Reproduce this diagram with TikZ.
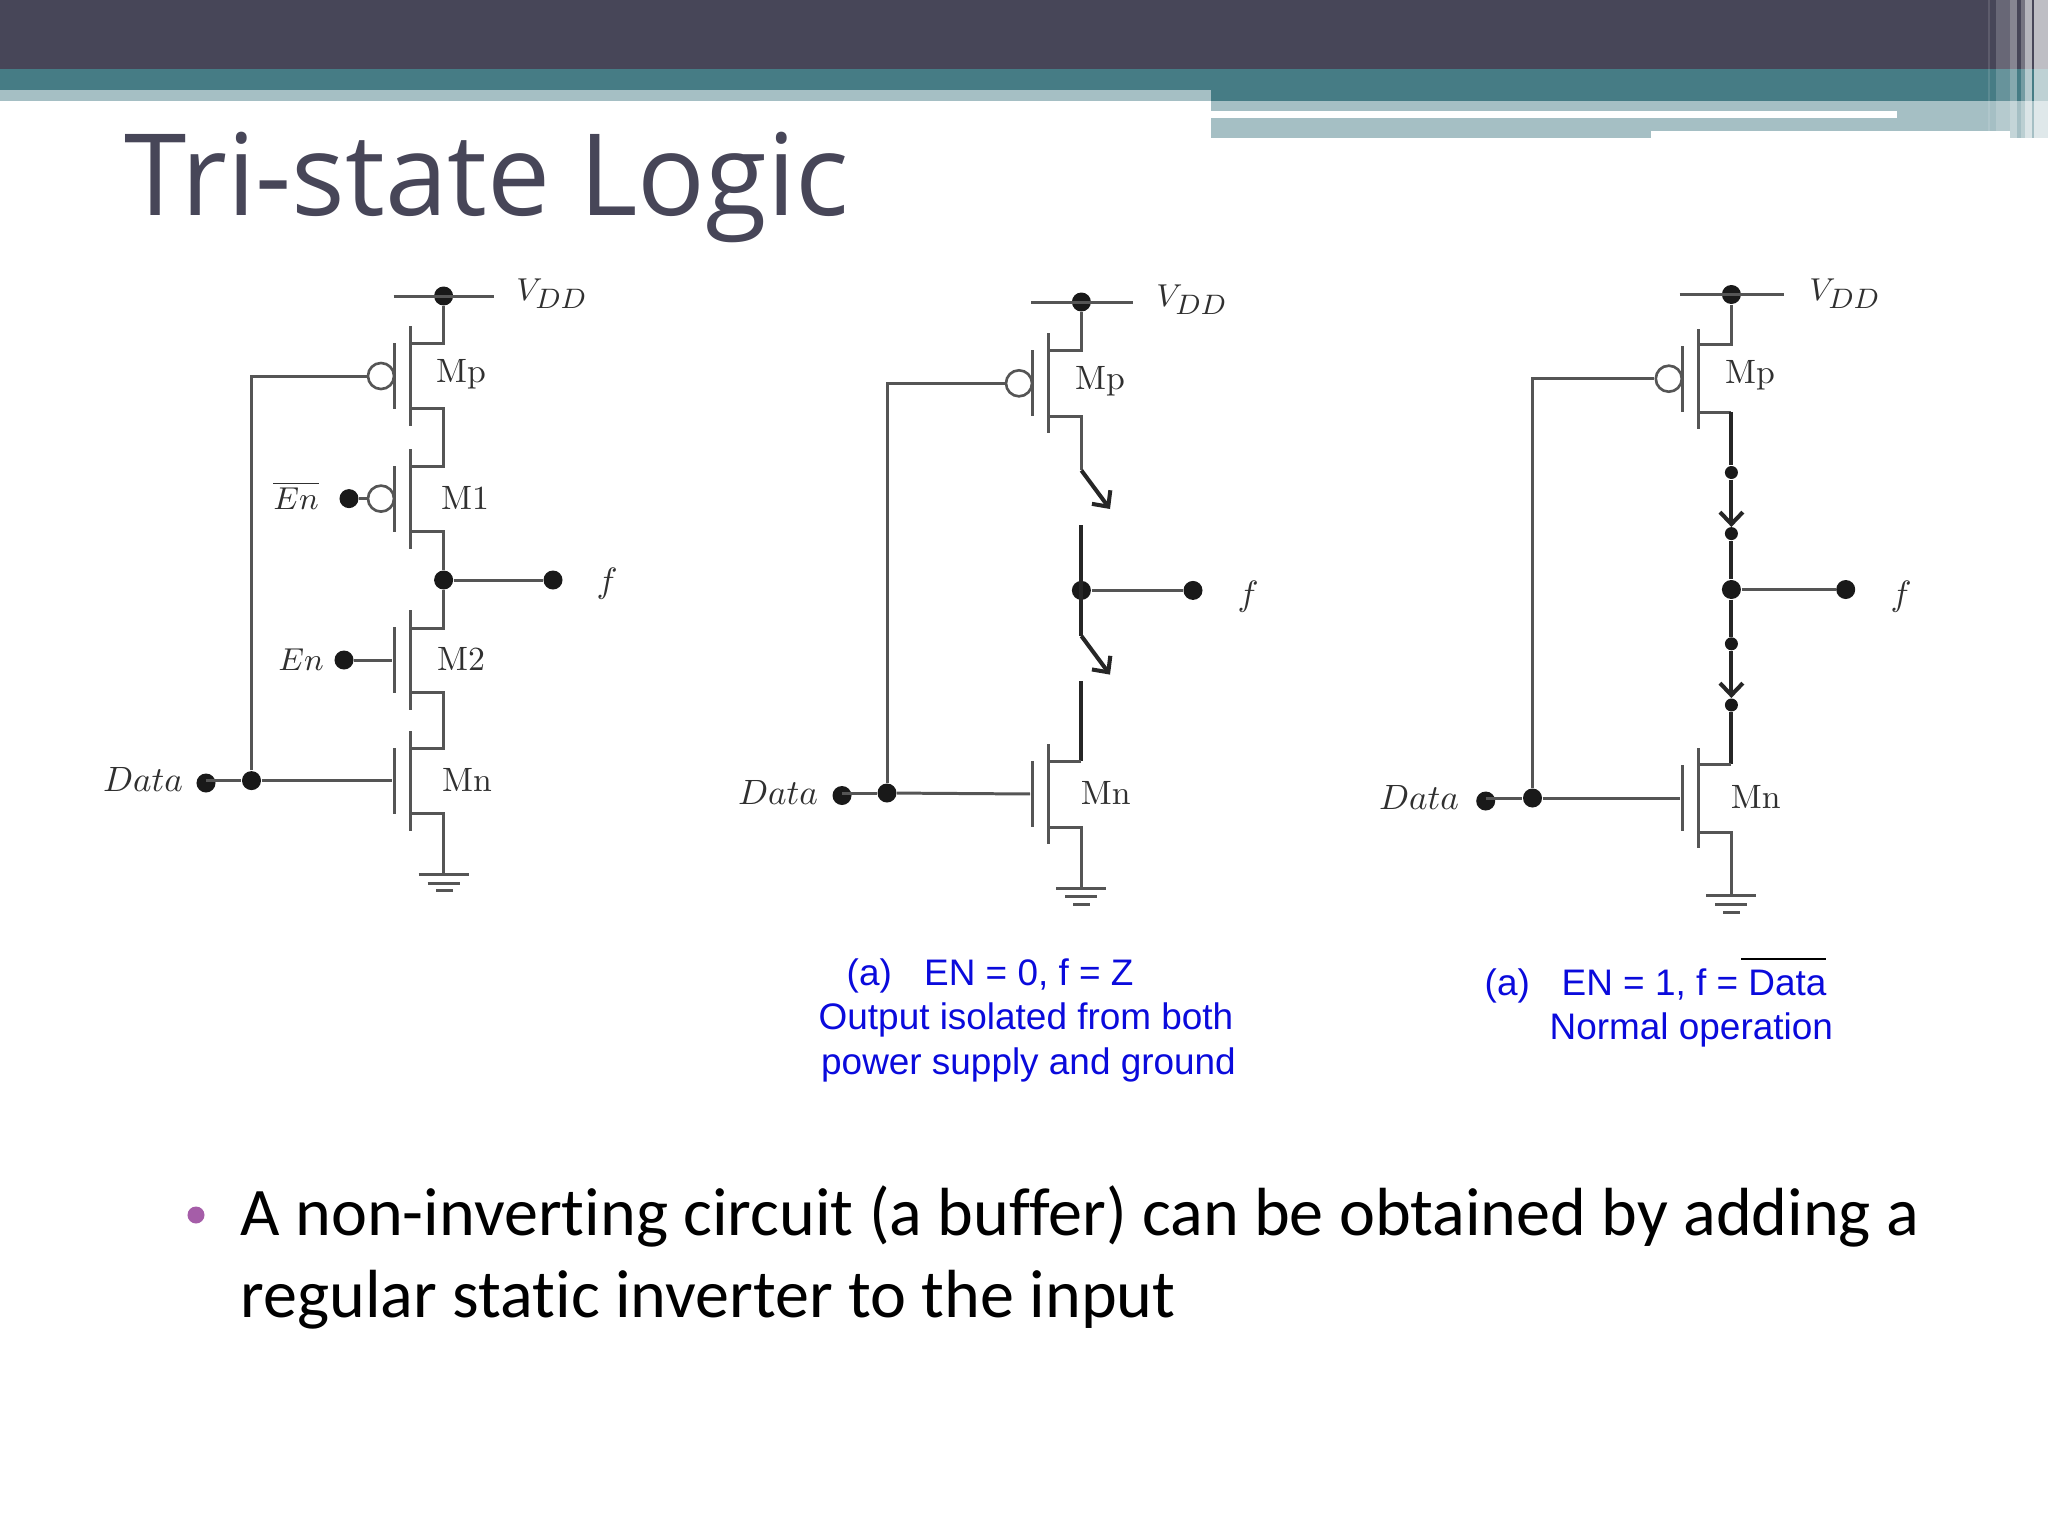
\documentclass[tikz,border=0pt]{standalone}
\usepackage{fontspec}
\usetikzlibrary{arrows.meta}
\newfontfamily\titlefont[FakeStretch=0.99]{Open Sans}
\newfontfamily\bodyfont[Ligatures=NoCommon]{Carlito}
\newfontfamily\notefont{Liberation Sans}
\definecolor{slate}{HTML}{474658}
\definecolor{teal}{HTML}{467C85}
\definecolor{pale}{HTML}{A5BFC4}
\definecolor{wirec}{HTML}{555555}
\definecolor{inkc}{HTML}{303030}
\definecolor{notec}{HTML}{0A0ADC}
\definecolor{bulletc}{HTML}{A55DA8}
\newcommand{\vddlab}{$V_{\mbox{\fontsize{7.6}{8}\selectfont$DD$}}$}
\tikzset{
  wire/.style={wirec, line width=.85pt},
  live/.style={black!85, line width=1.15pt},
  swtip/.style={-{Straight Barb[length=3.4pt,width=6.5pt]}},
  dotn/.style={circle, fill=black!90, inner sep=0, minimum size=.19cm},
  smalldot/.style={circle, fill=black!90, inner sep=0, minimum size=.13cm},
  bubble/.style={circle, draw=wirec, line width=.75pt, fill=white, inner sep=0, minimum size=.26cm},
  chanbar/.style={rectangle, fill=wirec, inner sep=0, minimum width=.035cm, minimum height=1cm},
  gatebar/.style={rectangle, fill=wirec, inner sep=0, minimum width=.035cm, minimum height=.66cm},
  lab/.style={inkc, inner sep=0, font=\fontsize{9.6}{11}\selectfont},
  smalllab/.style={inkc, inner sep=0, font=\fontsize{8.8}{11}\selectfont},
  note/.style={notec, inner sep=0, anchor=base west, font=\notefont\fontsize{10.5}{12}\selectfont},
  body/.style={black, inner sep=0, anchor=base west, font=\bodyfont\fontsize{19.37}{22}\selectfont},
}
\begin{document}
\begin{tikzpicture}[x=.01cm, y=-.01cm]
\useasboundingbox (0,0) rectangle (2048,1536);
% banner
\fill[slate] (0,0) rectangle (2048,69);
\fill[teal] (0,69) rectangle (1211,90);
\fill[pale] (0,90) rectangle (1211,100.7);
\fill[teal] (1211,69) rectangle (2048,100.7);
\fill[pale] (1211,100.7) rectangle (2010,131);
\fill[pale] (1211,131) rectangle (1651,138.3);
\fill[pale] (2010,100.7) rectangle (2048,138);
\fill[white] (1211,111) rectangle (1897,117.7);
\fill[white, opacity=.12] (1988,0) rectangle (1990,131);
\fill[white, opacity=.18] (1996,0) rectangle (2010,131);
\fill[white, opacity=.35] (2010,0) rectangle (2017,138);
\fill[white, opacity=.25] (2021,0) rectangle (2025,138);
\fill[white, opacity=.6] (2025,0) rectangle (2032,138);
\fill[white, opacity=.65] (2034,0) rectangle (2048,138);
\node[slate, inner sep=0, anchor=base west, font=\titlefont\fontsize{32.3}{36}\selectfont] (title) at (124,215) {Tri-state Logic};

% left circuit
\node[dotn] (avdd) at (443.6,296){};
\coordinate (avddl) at (393.6,296);
\coordinate (avddr) at (493.6,296);
\node[chanbar] (ampc) at (410.7,376){};
\node[gatebar] (ampg) at (394.6,376){};
\node[bubble] (ampb) at (381,376){};
\coordinate (ampd) at (410.7,343);
\coordinate (amps) at (410.7,408);
\coordinate (arail) at (443.6,408);
\node[chanbar] (am1c) at (410.7,498.6){};
\node[gatebar] (am1g) at (394.6,498.6){};
\node[bubble] (am1b) at (381,498.6){};
\coordinate (am1d) at (410.7,466);
\coordinate (am1s) at (410.7,531.5);
\node[dotn] (aenb) at (349,498.6){};
\node[dotn] (aout) at (443.6,580){};
\node[dotn] (af) at (553,580){};
\node[chanbar] (am2c) at (410.7,660){};
\node[gatebar] (am2g) at (394.6,660){};
\coordinate (am2d) at (410.7,628);
\coordinate (am2s) at (410.7,692);
\coordinate (arailb) at (443.6,692);
\node[dotn] (aen) at (344,660){};
\node[chanbar] (amnc) at (410.7,780.6){};
\node[gatebar] (amng) at (394.6,780.6){};
\coordinate (amnd) at (410.7,748);
\coordinate (amns) at (410.7,813.5);
\node[dotn] (adata) at (206,783){};
\node[dotn] (ajn) at (251.5,780.6){};
\coordinate (agnd) at (443.6,874.5);
\coordinate (agnda) at (418.6,874.5);
\coordinate (agndb) at (468.6,874.5);
\coordinate (agndc) at (427.5,883);
\coordinate (agndd) at (459.6,883);
\coordinate (agnde) at (436,890.5);
\coordinate (agndf) at (452.5,890.5);
\draw[wire](avddl) -- (avddr);
\draw[wire](avdd) |- (ampd);
\draw[wire](amps) -- (arail) |- (am1d);
\draw[wire](am1s) -| (aout);
\draw[wire](aout) -- (af);
\draw[wire](aout) |- (am2d);
\draw[wire](am2s) -- (arailb) |- (amnd);
\draw[wire](amns) -| (agnd);
\draw[wire](agnda) -- (agndb);
\draw[wire](agndc) -- (agndd);
\draw[wire](agnde) -- (agndf);
\draw[wire](adata |- ajn) -- (ajn);
\draw[wire](ajn) -- (amng);
\draw[wire](ajn) |- (ampb);
\draw[wire](aenb) -- (am1b);
\draw[wire](aen) -- (am2g);
\node[smalllab] (lavdd) at (552,294) {\vddlab};
\node[lab] (lamp) at (461,374) {Mp};
\node[lab] (lam1) at (465,498) {M1};
\node[lab] (lam2) at (461,659) {M2};
\node[lab] (lamn) at (467,780) {Mn};
\node[smalllab] (laenb) at (296,495.5) {$\overline{En}$};
\node[smalllab] (laen) at (301,660) {$En$};
\node[lab] (ladata) at (143,779) {$Data$};
\node[lab] (laf) at (607,584) {$f$};

% middle circuit
\node[dotn] (bvdd) at (1081.4,302){};
\coordinate (bvddl) at (1031,302);
\coordinate (bvddr) at (1132.5,302);
\node[chanbar] (bmpc) at (1048.6,383.3){};
\node[gatebar] (bmpg) at (1032.5,383.3){};
\node[bubble] (bmpb) at (1019,383.3){};
\coordinate (bmpd) at (1048.6,350.5);
\coordinate (bmps) at (1048.6,416.6);
\coordinate (bswa) at (1081.4,470.4);
\coordinate (bswb) at (1110,509);
\coordinate (bup) at (1081.4,525);
\node[dotn] (bout) at (1081.4,590.4){};
\node[dotn] (bf) at (1193,590.4){};
\coordinate (bswc) at (1081.4,636);
\coordinate (bswd) at (1110,674.6);
\coordinate (blo) at (1081.4,681);
\coordinate (bmnr) at (1081.4,761);
\node[chanbar] (bmnc) at (1048.6,794){};
\node[gatebar] (bmng) at (1032.5,794){};
\coordinate (bmnd) at (1048.6,761);
\coordinate (bmns) at (1048.6,827);
\node[dotn] (bdata) at (842,795.5){};
\node[dotn] (bjn) at (887,793){};
\coordinate (bgnd) at (1081.4,888);
\coordinate (bgnda) at (1056.4,888);
\coordinate (bgndb) at (1106.4,888);
\coordinate (bgndc) at (1065.4,896);
\coordinate (bgndd) at (1097.4,896);
\coordinate (bgnde) at (1073.4,904);
\coordinate (bgndf) at (1090,904);
\draw[wire](bvddl) -- (bvddr);
\draw[wire](bvdd) |- (bmpd);
\draw[wire](bmps) -| (bswa);
\draw[live,swtip](bswa) -- (bswb);
\draw[live](bup) -- (bswc);
\draw[wire](bout) -- (bf);
\draw[live,swtip](bswc) -- (bswd);
\draw[live](blo) -- (bmnr);
\draw[wire](bmnr) -- (bmnd);
\draw[wire](bmns) -| (bgnd);
\draw[wire](bgnda) -- (bgndb);
\draw[wire](bgndc) -- (bgndd);
\draw[wire](bgnde) -- (bgndf);
\draw[wire](bdata |- bjn) -- (bjn);
\draw[wire](bjn) -- (bmng);
\draw[wire](bjn) |- (bmpb);
\node[smalllab] (lbvdd) at (1192,300) {\vddlab};
\node[lab] (lbmp) at (1100,381) {Mp};
\node[lab] (lbmn) at (1105.7,793) {Mn};
\node[lab] (lbdata) at (778,792) {$Data$};
\node[lab] (lbf) at (1248,597) {$f$};

% right circuit
\node[dotn] (cvdd) at (1731.4,294.5){};
\coordinate (cvddl) at (1679.6,294.5);
\coordinate (cvddr) at (1784,294.5);
\node[chanbar] (cmpc) at (1698.5,378.7){};
\node[gatebar] (cmpg) at (1682.4,378.7){};
\node[bubble] (cmpb) at (1668.8,378.7){};
\coordinate (cmpd) at (1698.5,344);
\coordinate (cmps) at (1698.5,412.4);
\coordinate (crail) at (1731.4,412.4);
\node[smalldot] (cswa) at (1731.4,472.5){};
\node[smalldot] (cswb) at (1731.4,533.6){};
\coordinate (ctipa) at (1731.4,527);
\node[dotn] (cout) at (1731.4,589.5){};
\node[dotn] (cf) at (1845.7,589.5){};
\node[smalldot] (cswc) at (1731.4,643.8){};
\node[smalldot] (cswd) at (1731.4,705){};
\coordinate (ctipb) at (1731.4,698);
\coordinate (cmnr) at (1731.4,764);
\node[chanbar] (cmnc) at (1698.5,798){};
\node[gatebar] (cmng) at (1682.4,798){};
\coordinate (cmnd) at (1698.5,764);
\coordinate (cmns) at (1698.5,832);
\node[dotn] (cdata) at (1485.7,801){};
\node[dotn] (cjn) at (1532.5,798){};
\coordinate (cgnd) at (1731.4,895.5);
\coordinate (cgnda) at (1706.4,895.5);
\coordinate (cgndb) at (1756.4,895.5);
\coordinate (cgndc) at (1715.4,904);
\coordinate (cgndd) at (1747.4,904);
\coordinate (cgnde) at (1723.4,912);
\coordinate (cgndf) at (1740,912);
\draw[wire](cvddl) -- (cvddr);
\draw[wire](cvdd) |- (cmpd);
\draw[wire](cmps) -- (crail);
\draw[live](crail) -- (cswa);
\draw[live,swtip](cswa) -- (ctipa);
\draw[live](cswb) -- (cout);
\draw[live](cout) -- (cswc);
\draw[wire](cout) -- (cf);
\draw[live,swtip](cswc) -- (ctipb);
\draw[live](cswd) -- (cmnr);
\draw[wire](cmnr) -- (cmnd);
\draw[wire](cmns) -| (cgnd);
\draw[wire](cgnda) -- (cgndb);
\draw[wire](cgndc) -- (cgndd);
\draw[wire](cgnde) -- (cgndf);
\draw[wire](cdata |- cjn) -- (cjn);
\draw[wire](cjn) -- (cmng);
\draw[wire](cjn) |- (cmpb);
\node[smalllab] (lcvdd) at (1845,294) {\vddlab};
\node[lab] (lcmp) at (1750,375) {Mp};
\node[lab] (lcmn) at (1755.7,797) {Mn};
\node[lab] (lcdata) at (1419,797) {$Data$};
\node[lab] (lcf) at (1901,597) {$f$};

% captions
\node[note] (nba) at (846,985) {(a)};
\node[note] (nbb) at (923.5,985) {EN = 0, f = Z};
\node[note] (nbc) at (818,1029) {Output isolated from both};
\node[note] (nbd) at (820.5,1074) {power supply and ground};
\node[note] (nca) at (1484,995) {(a)};
\node[note] (ncb) at (1561,995) {EN = 1, f = Data};
\node[note] (ncc) at (1549,1039.5) {Normal operation};
\coordinate (barl) at (1741,959);
\coordinate (barr) at (1826,959);
\draw[black, line width=.7pt](barl) -- (barr);

% bullet
\node[circle, fill=bulletc, inner sep=0, minimum size=.17cm] (dotb) at (196,1215){};
\node[body] (txa) at (240,1235) {A non-inverting circuit (a buffer) can be obtained by adding a};
\node[body] (txb) at (240,1317.5) {regular static inverter to the input};
\end{tikzpicture}
\end{document}
